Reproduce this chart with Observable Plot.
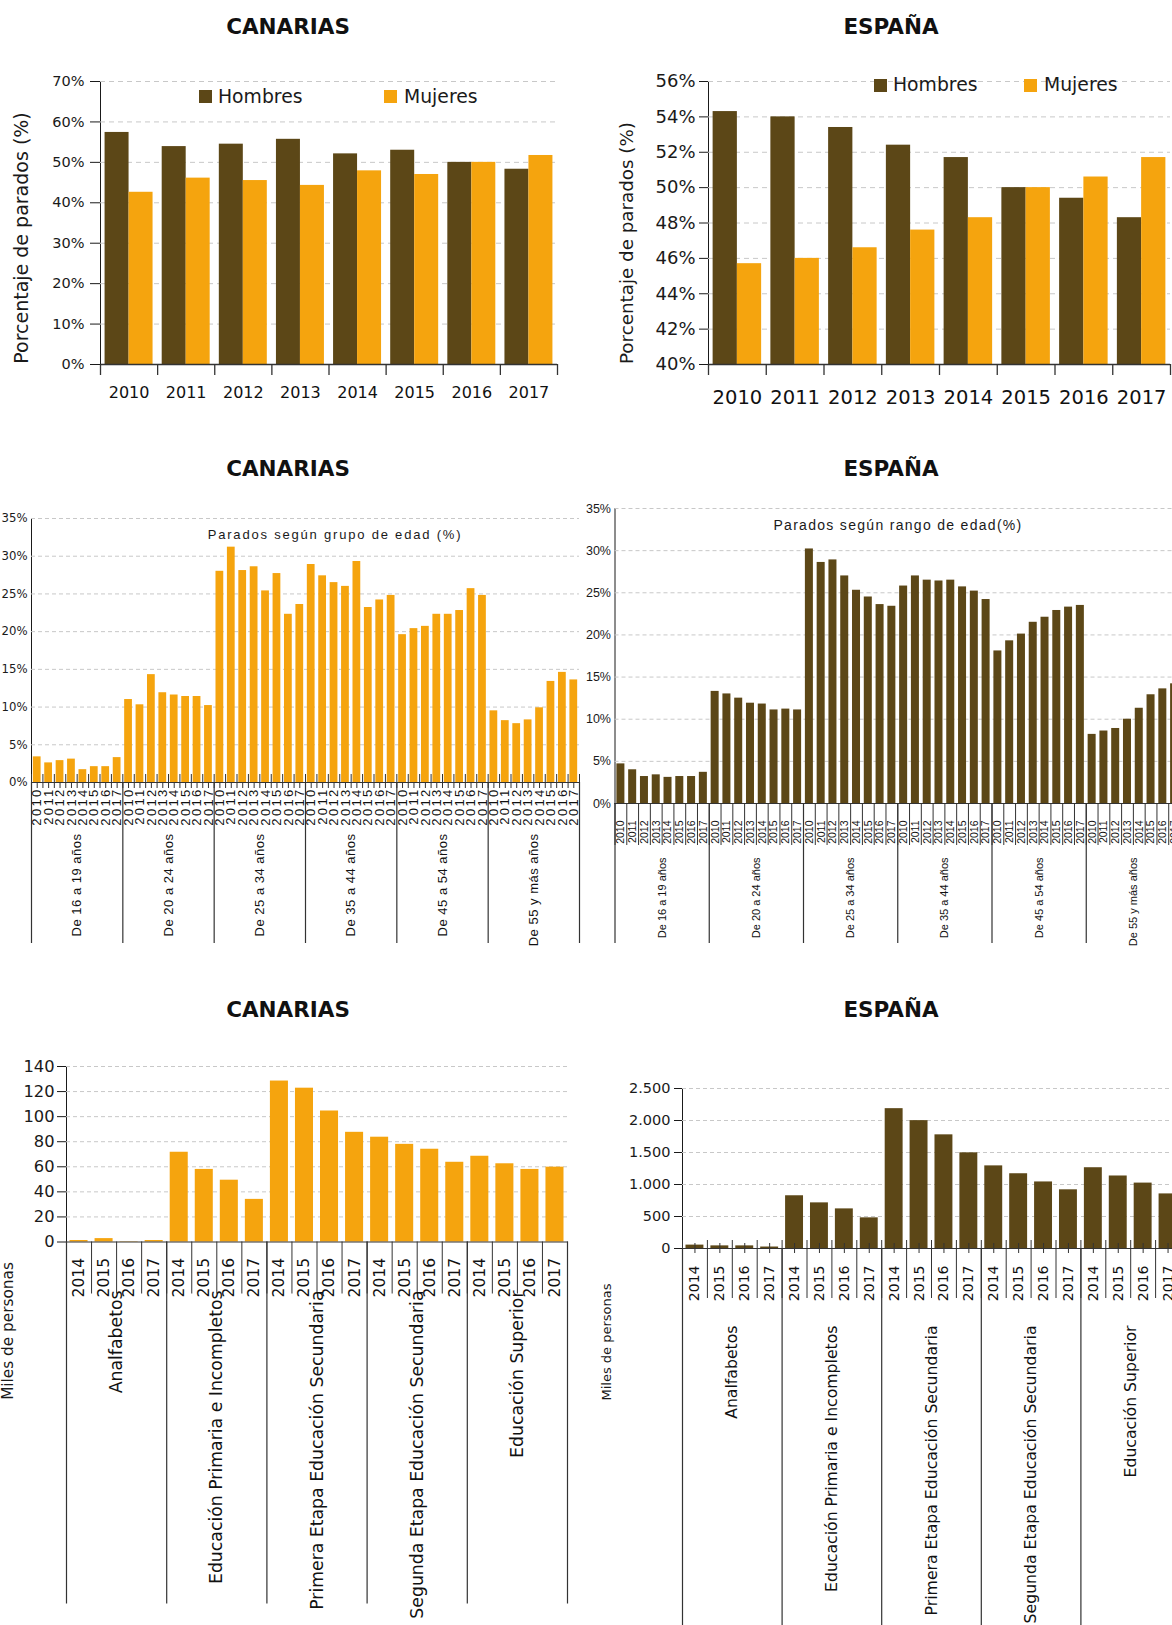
<!DOCTYPE html>
<html>
<head>
<meta charset="utf-8">
<script src="https://cdn.jsdelivr.net/npm/d3@7"></script>
<script src="https://cdn.jsdelivr.net/npm/@observablehq/plot@0.6"></script>
<style>
html, body { margin: 0; padding: 0; background: #fff; }
#page { position: relative; width: 1172px; height: 1625px; overflow: hidden; background: #fff;
  font-family: "DejaVu Sans", sans-serif; color: #1a1a1a; }
.lbl { position: absolute; white-space: nowrap; line-height: 1; }
.center { transform: translate(-50%, -50%); }
.vert { transform: translate(-50%, -50%) rotate(-90deg); }
.title { font-weight: bold; font-size: 21.5px; color: #111; }
.sw { position: absolute; width: 13px; height: 13px; }
</style>
</head>
<body>
<div id="page"></div>
<script>
// ---------- DATA ----------
const years = [2010, 2011, 2012, 2013, 2014, 2015, 2016, 2017];
const canariasHombres = [57.4, 53.9, 54.5, 55.7, 52.1, 53.0, 50.0, 48.3];
const canariasMujeres = [42.6, 46.1, 45.5, 44.3, 47.9, 47.0, 50.0, 51.7];
const espanaHombres = [54.3, 54.0, 53.4, 52.4, 51.7, 50.0, 49.4, 48.3];
const espanaMujeres = [45.7, 46.0, 46.6, 47.6, 48.3, 50.0, 50.6, 51.7];

const gruposEdad = ["De 16 a 19 años", "De 20 a 24 años", "De 25 a 34 años", "De 35 a 44 años", "De 45 a 54 años", "De 55 y más años"];
const canariasEdad16_19 = [3.4, 2.6, 2.9, 3.1, 1.7, 2.1, 2.1, 3.3];
const canariasEdad20_24 = [11.0, 10.3, 14.3, 11.9, 11.6, 11.4, 11.4, 10.2];
const canariasEdad25_34 = [28.0, 31.2, 28.1, 28.6, 25.4, 27.7, 22.3, 23.6];
const canariasEdad35_44 = [28.9, 27.4, 26.5, 26.0, 29.3, 23.2, 24.2, 24.8];
const canariasEdad45_54 = [19.6, 20.4, 20.7, 22.3, 22.3, 22.8, 25.7, 24.8];
const canariasEdad55 = [9.5, 8.2, 7.8, 8.3, 9.9, 13.4, 14.6, 13.6];
const espanaEdad16_19 = [4.7, 4.0, 3.2, 3.4, 3.1, 3.2, 3.2, 3.7];
const espanaEdad20_24 = [13.3, 13.0, 12.5, 11.9, 11.8, 11.1, 11.2, 11.1];
const espanaEdad25_34 = [30.2, 28.6, 28.9, 27.0, 25.3, 24.5, 23.6, 23.4];
const espanaEdad35_44 = [25.8, 27.0, 26.5, 26.4, 26.5, 25.7, 25.2, 24.2];
const espanaEdad45_54 = [18.1, 19.3, 20.1, 21.5, 22.1, 22.9, 23.3, 23.5];
const espanaEdad55 = [8.2, 8.6, 8.9, 10.0, 11.3, 12.9, 13.6, 14.2];

const yearsEdu = [2014, 2015, 2016, 2017];
const nivelesEdu = ["Analfabetos", "Educación Primaria e Incompletos", "Primera Etapa Educación Secundaria", "Segunda Etapa Educación Secundaria", "Educación Superior"];
const canariasAnalfabetos = [1.2, 2.7, 0.3, 1.2];
const canariasPrimaria = [71.6, 57.9, 49.3, 34.0];
const canariasPrimeraEtapa = [128.4, 122.7, 104.5, 87.5];
const canariasSegundaEtapa = [83.6, 77.9, 74.0, 63.6];
const canariasSuperior = [68.4, 62.4, 57.9, 59.7];
const espanaAnalfabetos = [53, 41, 41, 23];
const espanaPrimaria = [824, 713, 619, 479];
const espanaPrimeraEtapa = [2185, 1998, 1776, 1495];
const espanaSegundaEtapa = [1291, 1168, 1040, 917];
const espanaSuperior = [1262, 1133, 1022, 853];

// ---------- STYLE ----------
const BROWN = "#5C4717", ORANGE = "#F5A40E", GRID = "#c8c8c8", AXIS = "#333";
const SANS = '"DejaVu Sans", sans-serif';
const NARROW = '"Liberation Sans", Arial, sans-serif';
const page = document.getElementById("page");

function place(node, left, top) {
  node.style.position = "absolute";
  node.style.left = left + "px";
  node.style.top = top + "px";
  page.appendChild(node);
}
function label(text, x, y, cls, style = {}) {
  const d = document.createElement("div");
  d.className = "lbl " + cls;
  d.textContent = text;
  Object.assign(d.style, {left: x + "px", top: y + "px"}, style);
  page.appendChild(d);
  return d;
}
function legendItem(text, color, sx, sy, tx, ty, fs) {
  const s = document.createElement("div");
  s.className = "sw";
  Object.assign(s.style, {left: sx + "px", top: sy + "px", background: color});
  page.appendChild(s);
  label(text, tx, ty, "", {fontSize: fs + "px", transform: "translateY(-50%)"});
}
function svgStyle(fs, family) {
  return {fontFamily: family, fontSize: fs + "px", color: "#1a1a1a", background: "transparent", maxWidth: "none", overflow: "visible"};
}

// ---------- SEX PANELS ----------
function sexPanel(o) {
  const rows = years.map((y, i) => ({year: y, h: o.H[i], m: o.M[i]}));
  const base = o.yDomain[0];
  const half = 0.42;
  const bounds = d3.range(years.length + 1).map(i => years[0] - 0.5 + i);
  return Plot.plot({
    width: o.width, height: o.height,
    marginLeft: o.mL, marginRight: o.mR, marginTop: o.mT, marginBottom: o.mB,
    style: svgStyle(o.tickFont, SANS),
    x: {domain: [years[0] - 0.5, years[years.length - 1] + 0.5], axis: null},
    y: {domain: o.yDomain, ticks: o.yTicks, tickFormat: d => d + "%", tickSize: o.tickSize, tickPadding: o.tickPadding, line: true, label: null},
    marks: [
      Plot.ruleY(o.yTicks.filter(t => t > base), {stroke: GRID, strokeDasharray: "5,4"}),
      Plot.rect(rows, {x1: d => d.year - half, x2: d => d.year, y1: base, y2: "h", fill: BROWN}),
      Plot.rect(rows, {x1: d => d.year, x2: d => d.year + half, y1: base, y2: "m", fill: ORANGE}),
      Plot.ruleY([base], {stroke: AXIS, strokeWidth: 1.3}),
      Plot.ruleX(bounds, {y1: base, y2: base, insetBottom: -11, stroke: AXIS, strokeWidth: 1.3}),
      Plot.text(years, {x: d => d, y: base, text: d => String(d), dy: o.yearDy, fontSize: o.yearFont, fill: "#111"})
    ]
  });
}

place(sexPanel({H: canariasHombres, M: canariasMujeres, yDomain: [0, 70], yTicks: d3.range(0, 71, 10),
  width: 586, height: 420, mL: 100, mR: 29, mT: 81, mB: 56, tickFont: 14.5, tickSize: 10, tickPadding: 6,
  yearFont: 16, yearDy: 28}), 0, 0);
place(sexPanel({H: espanaHombres, M: espanaMujeres, yDomain: [40, 56], yTicks: d3.range(40, 57, 2),
  width: 586, height: 420, mL: 122, mR: 2, mT: 81, mB: 56, tickFont: 18, tickSize: 9, tickPadding: 4,
  yearFont: 19.5, yearDy: 33}), 586, 0);

// ---------- GROUPED PANELS ----------
function groupedPanel(o) {
  const gs = o.cats.length;
  const data = o.vals.flatMap((arr, g) => arr.map((v, k) => ({i: g * gs + k, cat: o.cats[k], v})));
  const idx = data.map(d => d.i);
  const bounds = d3.range(data.length + 1).map(i => i - 0.5);
  const gb = d3.range(o.groups.length + 1).map(g => g * gs - 0.5);
  const half = o.half;
  const marks = [
    Plot.ruleY(o.yTicks.filter(t => t > 0), {stroke: GRID, strokeDasharray: "4,3"}),
    Plot.rect(data, {x1: d => d.i - half, x2: d => d.i + half, y1: 0, y2: "v", fill: o.color}),
    Plot.ruleY([0], {stroke: AXIS, strokeWidth: 1.2}),
    Plot.ruleX(bounds, {y1: 0, y2: 0, insetTop: -o.bUp, insetBottom: -o.bDown, stroke: AXIS, strokeWidth: 1})
  ];
  if (o.cUp || o.cDown) marks.push(Plot.ruleX(idx, {y1: 0, y2: 0, insetTop: -o.cUp, insetBottom: -o.cDown, stroke: AXIS, strokeWidth: 1}));
  marks.push(
    Plot.ruleX(gb, {y1: 0, y2: 0, insetBottom: -o.gDown, stroke: AXIS, strokeWidth: 1.2}),
    Plot.text(data, {x: "i", y: 0, text: d => String(d.cat), rotate: -90, textAnchor: "end", dy: o.yearDy,
      fontSize: o.yearFont, fontFamily: o.yearFamily, fill: "#111"}),
    Plot.text(o.groups, {x: (d, g) => g * gs + (gs - 1) / 2, y: 0, text: d => d, rotate: -90, textAnchor: "end",
      dy: o.groupDy, fontSize: o.groupFont, fontFamily: o.groupFamily, fill: "#111"})
  );
  const svg = Plot.plot({
    width: o.width, height: o.height,
    marginLeft: o.mL, marginRight: o.mR, marginTop: o.mT, marginBottom: o.mB,
    style: svgStyle(o.tickFont, o.tickFamily),
    x: {domain: [-0.5, data.length - 0.5], axis: null},
    y: {domain: o.yDomain, ticks: o.yTicks, tickFormat: o.tickFormat, tickSize: o.tickSize, tickPadding: o.tickPadding, line: true, label: null},
    marks
  });
  // letter spacing for the two text marks (category labels, then group labels)
  const textGroups = Array.from(svg.querySelectorAll(":scope > g")).filter(g => g.querySelector(":scope > text") && g.getAttribute("aria-label") === "text");
  if (textGroups[0] && o.yearLS) textGroups[0].querySelectorAll("text").forEach(t => t.style.letterSpacing = o.yearLS + "px");
  if (textGroups[1] && o.groupLS) textGroups[1].querySelectorAll("text").forEach(t => t.style.letterSpacing = o.groupLS + "px");
  return svg;
}

const pct = d => d + "%";
place(groupedPanel({
  vals: [canariasEdad16_19, canariasEdad20_24, canariasEdad25_34, canariasEdad35_44, canariasEdad45_54, canariasEdad55],
  cats: years, groups: gruposEdad, color: ORANGE, half: 0.34,
  yDomain: [0, 35], yTicks: d3.range(0, 36, 5), tickFormat: pct, tickSize: 0, tickPadding: 4, tickFont: 11.7, tickFamily: SANS,
  width: 586, height: 520, mL: 31, mR: 7, mT: 78, mB: 178,
  bUp: 8, bDown: 6, cUp: 0, cDown: 6, gDown: 161,
  yearDy: 5, yearFont: 13, yearFamily: NARROW, yearLS: 2.3,
  groupDy: 51, groupFont: 13, groupFamily: NARROW, groupLS: 0.5
}), 0, 440);

place(groupedPanel({
  vals: [espanaEdad16_19, espanaEdad20_24, espanaEdad25_34, espanaEdad35_44, espanaEdad45_54, espanaEdad55],
  cats: years, groups: gruposEdad, color: BROWN, half: 0.34,
  yDomain: [0, 35], yTicks: d3.range(0, 36, 5), tickFormat: pct, tickSize: 0, tickPadding: 4, tickFont: 12.5, tickFamily: NARROW,
  width: 640, height: 520, mL: 44.5, mR: 30, mT: 68, mB: 157,
  bUp: 0, bDown: 42, cUp: 0, cDown: 0, gDown: 140,
  yearDy: 17, yearFont: 10.5, yearFamily: NARROW, yearLS: 0,
  groupDy: 54, groupFont: 11, groupFamily: NARROW, groupLS: 0
}), 570, 440);

const esFmt = d3.formatLocale({decimal: ",", thousands: ".", grouping: [3], currency: ["", " €"]}).format(",d");
place(groupedPanel({
  vals: [canariasAnalfabetos, canariasPrimaria, canariasPrimeraEtapa, canariasSegundaEtapa, canariasSuperior],
  cats: yearsEdu, groups: nivelesEdu, color: ORANGE, half: 0.36,
  yDomain: [0, 140], yTicks: d3.range(0, 141, 20), tickFormat: d => String(d), tickSize: 9, tickPadding: 3, tickFont: 16.3, tickFamily: SANS,
  width: 586, height: 595, mL: 66, mR: 19, mT: 36, mB: 383.5,
  bUp: 0, bDown: 52, cUp: 0, cDown: 0, gDown: 362,
  yearDy: 16, yearFont: 15.5, yearFamily: SANS, yearLS: 0,
  groupDy: 48.5, groupFont: 17.3, groupFamily: SANS, groupLS: 0
}), 0, 1030);

place(groupedPanel({
  vals: [espanaAnalfabetos, espanaPrimaria, espanaPrimeraEtapa, espanaSegundaEtapa, espanaSuperior],
  cats: yearsEdu, groups: nivelesEdu, color: BROWN, half: 0.36,
  yDomain: [0, 2500], yTicks: d3.range(0, 2501, 500), tickFormat: esFmt, tickSize: 8, tickPadding: 4, tickFont: 14.5, tickFamily: SANS,
  width: 620, height: 595, mL: 96, mR: 26, mT: 58, mB: 377,
  bUp: 8, bDown: 50, cUp: 5, cDown: 5, gDown: 380,
  yearDy: 17, yearFont: 14, yearFamily: SANS, yearLS: 0,
  groupDy: 77, groupFont: 15.7, groupFamily: SANS, groupLS: 0
}), 586, 1030);

// ---------- TITLES & LABELS ----------
[[288, 27], [288, 469], [288, 1010]].forEach(([x, y]) => label("CANARIAS", x, y, "center title"));
[[891, 27], [891, 469], [891, 1010]].forEach(([x, y]) => label("ESPAÑA", x, y, "center title"));

label("Porcentaje de parados (%)", 21, 238, "vert", {fontSize: "19px"});
label("Porcentaje de parados (%)", 627, 243, "vert", {fontSize: "18.3px"});
label("Miles de personas", 9, 1331, "vert", {fontSize: "15.3px"});
label("Miles de personas", 606, 1342, "vert", {fontSize: "13px"});

label("Parados según grupo de edad (%)", 335, 534, "center", {fontSize: "13px", fontFamily: NARROW, letterSpacing: "1.8px"});
label("Parados según rango de edad(%)", 898, 525, "center", {fontSize: "14px", fontFamily: NARROW, letterSpacing: "1.3px"});

legendItem("Hombres", BROWN, 199, 90, 218, 97, 18.8);
legendItem("Mujeres", ORANGE, 384, 90, 404, 97, 18.8);
legendItem("Hombres", BROWN, 874, 79, 893, 85, 18.8);
legendItem("Mujeres", ORANGE, 1024, 79, 1044, 85, 18.8);
</script>
</body>
</html>
